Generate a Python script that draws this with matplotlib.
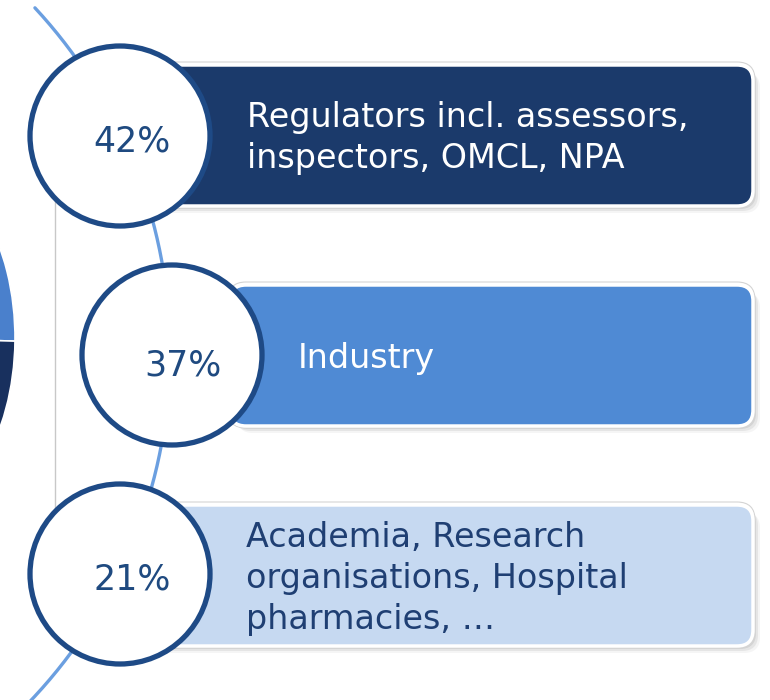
import matplotlib
matplotlib.use("Agg")
import matplotlib.pyplot as plt
import numpy as np
from matplotlib.patches import FancyBboxPatch, Circle, Wedge
from matplotlib.transforms import Affine2D

# chart values
shares = [42, 37, 21]
groups = [
    "Regulators incl. assessors,\ninspectors, OMCL, NPA",
    "Industry",
    "Academia, Research\norganisations, Hospital\npharmacies, \u2026",
]
box_colors = ["#1b3a6b", "#4f8ad4", "#c6d9f1"]
label_colors = ["white", "white", "#1f3f73"]

navy = "#1e4a86"
arc_blue = "#6b9fe0"

plt.rcParams['font.family'] = ['DejaVu Sans']

fig = plt.figure(figsize=(7.7, 7.0), dpi=100)
ax = fig.add_axes([0, 0, 1, 1])
ax.set_xlim(0, 770)
ax.set_ylim(700, 0)
ax.set_aspect('equal')
ax.axis('off')

# partial pie peeking in from the left edge (stretched vertically)
squash = Affine2D().scale(1, 1.6) + ax.transData
ax.add_patch(Wedge((-97, 338 / 1.6), 112, -90, 1, facecolor="#4a80cc",
                   edgecolor="white", lw=1.2, zorder=1, transform=squash))
ax.add_patch(Wedge((-97, 338 / 1.6), 112, 1, 90, facecolor="#18305e",
                   edgecolor="white", lw=1.2, zorder=1, transform=squash))

# thin grey frame line
ax.plot([55, 55], [195, 520], color="#c8c8c8", lw=1, zorder=1)

# big connecting arc
th = np.linspace(-0.748, 0.76, 400)
ax.plot(-336 + 506 * np.cos(th), 352 + 506 * np.sin(th),
        color=arc_blue, lw=2.4, zorder=2, solid_capstyle='round')

circ_x = [120, 172, 120]
circ_y = [136, 355, 574]
pct_x = [132, 183, 132]
pct_base = [152, 376, 589]
box_left = [150, 230, 150]
box_top = [65, 285, 505]
box_right = 753
box_h = 141
text_x = [247, 298, 246]
text_base = [127, 368, 547]
line_gap = 41

for i in range(len(shares)):
    x0, y0 = box_left[i], box_top[i]
    w = box_right - x0
    # soft shadow
    for k, a in enumerate([0.12, 0.09, 0.06]):
        off = 3 + k * 2
        ax.add_patch(FancyBboxPatch((x0 + off, y0 + off), w, box_h,
                                    boxstyle="round,pad=0,rounding_size=16",
                                    facecolor="#555555", edgecolor="none",
                                    alpha=a, zorder=3))
    ax.add_patch(FancyBboxPatch((x0 - 2, y0 - 3), w + 4, box_h + 5,
                                boxstyle="round,pad=0,rounding_size=18",
                                facecolor="none", edgecolor="#d4d4d4",
                                lw=0.8, zorder=3))
    ax.add_patch(FancyBboxPatch((x0, y0), w, box_h,
                                boxstyle="round,pad=0,rounding_size=16",
                                facecolor=box_colors[i], edgecolor="white",
                                lw=2.5, zorder=4))
    ax.add_patch(Circle((circ_x[i], circ_y[i]), 90, facecolor="white",
                        edgecolor=navy, lw=3.8, zorder=5))
    ax.text(pct_x[i], pct_base[i], f"{shares[i]}%", color="#1f4a80",
            fontsize=25, ha='center', va='baseline', zorder=6)
    for j, line in enumerate(groups[i].split("\n")):
        ax.text(text_x[i], text_base[i] + j * line_gap, line,
                color=label_colors[i], fontsize=24, ha='left',
                va='baseline', zorder=6)

fig.savefig("out.png", dpi=100)
